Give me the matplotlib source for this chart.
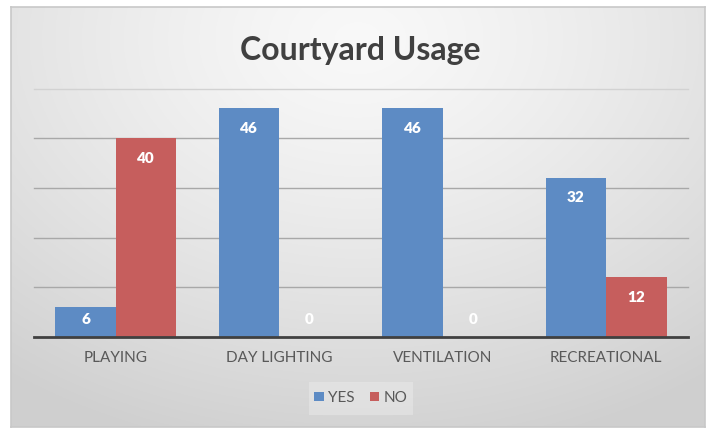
import numpy as np
import matplotlib
matplotlib.use("Agg")
import matplotlib.pyplot as plt
from matplotlib.patches import Rectangle

categories = ["PLAYING", "DAY LIGHTING", "VENTILATION", "RECREATIONAL"]
yes_values = [6, 46, 46, 32]
no_values = [40, 0, 0, 12]
series_names = ["YES", "NO"]
title = "Courtyard Usage"

W, H = 713, 428
DPI = 100
plt.rcParams['font.family'] = ['Lato', 'DejaVu Sans']

fig = plt.figure(figsize=(W / DPI, H / DPI), dpi=DPI)
fig.patch.set_facecolor("white")

def fx(px):
    return px / W

def fy(py):
    return 1 - py / H

# background gradient panel
bx0, by0, bx1, by1 = 11, 7, 705, 427
bg = fig.add_axes([fx(bx0), fy(by1), fx(bx1 - bx0), (by1 - by0) / H])
gx = np.linspace(-1, 1, 400)
gy = np.linspace(-1, 1, 300)
GX, GY = np.meshgrid(gx, gy)
r = np.sqrt((GX * 0.9) ** 2 + ((GY + 0.85) * 0.75) ** 2)
val = 0.975 - 0.16 * np.clip(r / 1.5, 0, 1) ** 1.3
img = np.dstack([val, val, val])
bg.imshow(img, aspect="auto", extent=[0, 1, 0, 1], origin="upper")
bg.set_xlim(0, 1)
bg.set_ylim(0, 1)
for s in bg.spines.values():
    s.set_color("#C8C8C8")
    s.set_linewidth(1.2)
bg.set_xticks([])
bg.set_yticks([])

# main axes
px0, px1 = 34, 688
py_top, py_base = 88.5, 337
ax = fig.add_axes([fx(px0), fy(py_base), fx(px1 - px0), (py_base - py_top) / H])
ax.patch.set_alpha(0)
ax.set_ylim(0, 50)
n = len(categories)
ax.set_xlim(-0.5, n - 0.5)
x = np.arange(n)
bw = 0.37
blue = "#5D8BC4"
red = "#C65E5D"

for yv in [10, 20, 30, 40, 50]:
    ax.axhline(yv, color="#A8A8A8" if yv < 50 else "#D2D2D2", lw=1.0, zorder=1, clip_on=False)

b1 = ax.bar(x - bw / 2, yes_values, width=bw, color=blue, zorder=2, label=series_names[0])
b2 = ax.bar(x + bw / 2, no_values, width=bw, color=red, zorder=2, label=series_names[1])

px_per_unit = (py_base - py_top) / 50.0
for bars, vals in ((b1, yes_values), (b2, no_values)):
    for rect, v in zip(bars, vals):
        cx = rect.get_x() + rect.get_width() / 2
        hpx = v * px_per_unit
        if hpx >= 38:
            ax.annotate(str(v), xy=(cx, v), xytext=(0, -20 * 72 / DPI), textcoords="offset points",
                        ha="center", va="center", color="white", fontsize=11, fontweight="heavy", zorder=3)
        else:
            ax.annotate(str(v), xy=(cx, 0), xytext=(0, 18 * 72 / DPI), textcoords="offset points",
                        ha="center", va="center", color="white", fontsize=11, fontweight="heavy", zorder=3)

for s in ["top", "right", "left"]:
    ax.spines[s].set_visible(False)
ax.spines["bottom"].set_color("#404040")
ax.spines["bottom"].set_linewidth(2)
ax.spines["bottom"].set_zorder(4)
ax.set_yticks([])
ax.set_xticks(x)
ax.set_xticklabels(categories, fontsize=11, color="#595959")
ax.tick_params(axis="x", length=0, pad=10)

fig.text(fx(360), fy(60), title, ha="center", va="baseline", fontsize=23, fontweight="bold", color="#404040")

# legend box
fig.patches.append(Rectangle((fx(309), fy(415)), fx(104), 33 / H, transform=fig.transFigure,
                             facecolor="white", alpha=0.25, edgecolor="none", zorder=1))
leg = fig.legend(handles=[b1, b2], labels=series_names, loc="center", bbox_to_anchor=(fx(361), fy(398)),
                 ncol=2, frameon=False, fontsize=11, handlelength=0.6, handleheight=0.6,
                 handletextpad=0.3, columnspacing=1.0, labelcolor="#595959")

fig.savefig("out.png", dpi=DPI, facecolor="white")
